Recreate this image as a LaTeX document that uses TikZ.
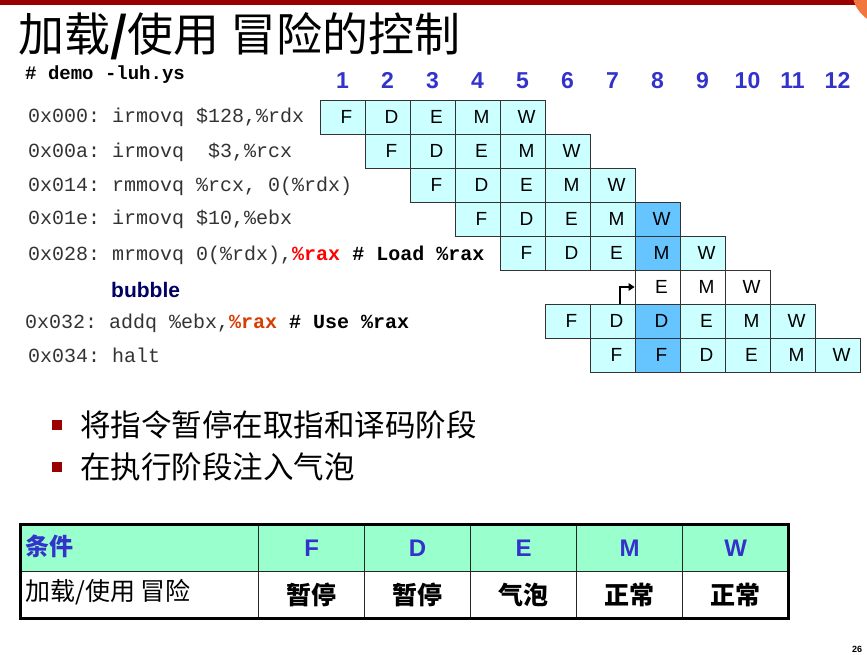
\documentclass[tikz,border=0pt]{standalone}
\usepackage{fontspec}
\setmainfont{Liberation Sans}
\setmonofont{Liberation Mono}
\newfontfamily\cjk{Noto Sans CJK SC}
\usetikzlibrary{arrows.meta,calc}
\definecolor{cellc}{HTML}{CCFFFF}
\definecolor{hlc}{HTML}{66C4FF}
\definecolor{cycc}{HTML}{3333CC}
\definecolor{barred}{HTML}{990000}
\definecolor{orng}{HTML}{F07840}
\definecolor{bubc}{HTML}{000066}
\definecolor{raxc}{HTML}{FF0000}
\definecolor{raxb}{HTML}{D83C00}
\definecolor{hdrc}{HTML}{99FFCC}
\definecolor{codec}{HTML}{333333}
\begin{document}
\begin{tikzpicture}[x=1pt,y=-1pt,
  cell/.style={draw=black!80, line width=0.8pt, minimum width=45pt, minimum height=34pt, inner sep=0pt, font=\fontsize{19}{19}\selectfont},
  cyc/.style={anchor=base, text=cycc, font=\fontsize{23}{23}\selectfont\bfseries, inner sep=0pt},
  code/.style={anchor=base west, inner sep=0pt, text=codec, font=\ttfamily\fontsize{20}{20}\selectfont},
  bul/.style={fill=barred, minimum size=10pt, inner sep=0pt},
  bultext/.style={anchor=west, inner sep=0pt, font=\cjk\fontsize{30.5}{30.5}\selectfont},
  tcell/.style={draw=black!85, line width=1.2pt, minimum height=47pt, inner sep=0pt},
  thdr/.style={text=cycc, font=\fontsize{24}{24}\selectfont\bfseries},
  tval/.style={font=\cjk\bfseries\fontsize{25}{25}\selectfont},
  arr/.style={line width=2pt, -{Triangle[length=6pt,width=7.5pt]}}
]
\clip (0,0) rectangle (867,655);
\fill[white] (0,0) rectangle (867,655);
% top bar
\fill[barred] (0,0) rectangle (867,5.5);
\fill[orng] (887,-10) circle (35);
% title
\node[anchor=west, inner sep=0pt, font=\cjk\fontsize{46}{46}\selectfont] (title) at (18,36) {加载\textbf{/}使用 冒险的控制};
\node[anchor=base west, inner sep=0pt, font=\ttfamily\bfseries\fontsize{19}{19}\selectfont] (demo) at (25,80) {\# demo -luh.ys};
% cycle numbers
\foreach \i in {1,...,12}
  \node[cyc] (n\i) at ({297.5+45*\i},89) {\i};
% code lines
\node[code] (l0) at (28,123) {0x000: irmovq \$128,\%rdx};
\node[code] (l1) at (28,158) {0x00a: irmovq \ \$3,\%rcx};
\node[code] (l2) at (28,192) {0x014: rmmovq \%rcx, 0(\%rdx)};
\node[code] (l3) at (28,225) {0x01e: irmovq \$10,\%ebx};
\node[code] (l4) at (28,260) {0x028: mrmovq 0(\%rdx),\textcolor{raxc}{\bfseries\%rax} \textcolor{black}{\bfseries\# Load \%rax}};
\node[anchor=base west, inner sep=0pt, text=bubc, font=\bfseries\fontsize{21}{21}\selectfont] (bub) at (111,297) {bubble};
\node[code] (l6) at (25,328) {0x032: addq \%ebx,\textcolor{raxb}{\bfseries\%rax} \textcolor{black}{\bfseries\# Use \%rax}};
\node[code] (l7) at (28,362) {0x034: halt};
% pipeline cells
\foreach \r/\s/\L in {0/1/{F,D,E,M,W},1/2/{F,D,E,M,W},2/3/{F,D,E,M,W},3/4/{F,D,E,M,W},4/5/{F,D,E,M,W},6/6/{F,D,D,E,M,W},7/7/{F,F,D,E,M,W}}{
  \foreach \l [count=\i from \s] in \L {
    \ifnum\i=8 \def\cf{hlc}\else\def\cf{cellc}\fi
    \node[cell, fill=\cf] (c\r-\i) at ({297.5+45*\i},{117+34*\r}) {\hspace*{8pt}\l};
  }
}
\foreach \l [count=\i from 8] in {E,M,W}
  \node[cell, fill=white] (b-\i) at ({297.5+45*\i},287) {\hspace*{8pt}\l};
% stall arrow
\draw[arr] ([xshift=7.5pt]c6-7.north) |- (b-8.west);
% bullets
\node[bul] (b1) at (57,425) {};
\node[bultext] (t1) at (80,425) {将指令暂停在取指和译码阶段};
\node[bul] (b2) at (57,467) {};
\node[bultext] (t2) at (80,467) {在执行阶段注入气泡};
% table
\node[tcell, fill=hdrc, minimum width=238pt, anchor=north west] (h0) at (20,524) {};
\node[anchor=west, inner sep=0pt, text=cycc, font=\cjk\bfseries\fontsize{24}{24}\selectfont] (h0t) at (25,546) {条件};
\node[tcell, fill=white, minimum width=238pt, anchor=north west] (r0) at (20,571) {};
\node[anchor=west, inner sep=0pt, font=\cjk\fontsize{25}{25}\selectfont] (r0t) at (25,592) {加载/使用 冒险};
\foreach \h/\v [count=\k from 0] in {F/暂停,D/暂停,E/气泡,M/正常,W/正常}{
  \node[tcell, fill=hdrc, minimum width=106pt, anchor=north west, thdr] (h\h) at ({258+106*\k},524) {\h};
  \node[tcell, fill=white, minimum width=106pt, anchor=north west, tval] (v\h) at ({258+106*\k},571) {\v};
}
\draw[line width=3pt] (20,524) rectangle (788,618);
% page number
\node[anchor=base west, inner sep=0pt, font=\bfseries\fontsize{9}{9}\selectfont] (pg) at (852,652) {26};
\end{tikzpicture}
\end{document}
